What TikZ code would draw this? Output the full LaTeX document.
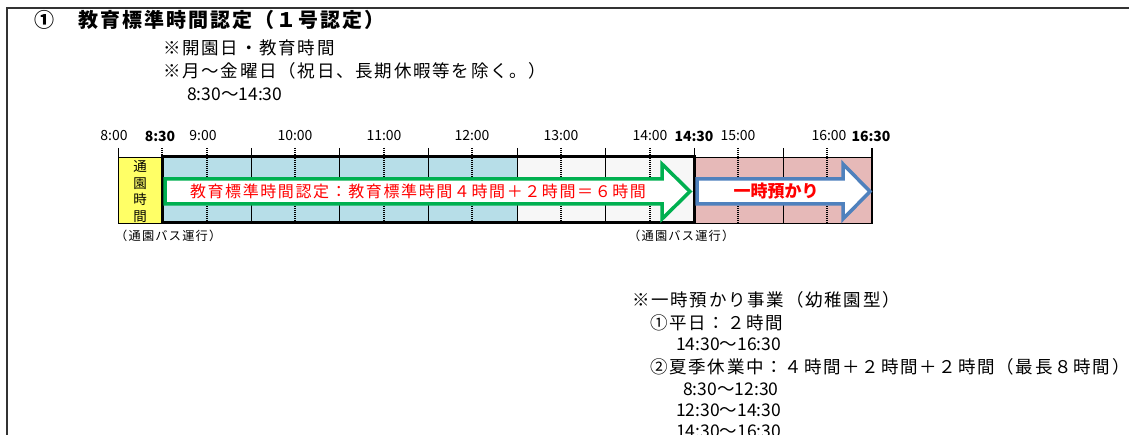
\documentclass[tikz,border=0pt]{standalone}
\usepackage{fontspec}
\setmainfont{Noto Sans CJK JP}
\newfontfamily\memofont[LetterSpace=10]{Noto Sans CJK JP}
\usepackage{tikz}
\definecolor{kyoikublue}{HTML}{B7DEE8}
\definecolor{azukaripink}{HTML}{E6B9B8}
\definecolor{tsuenyellow}{HTML}{FFFF66}
\definecolor{paleband}{HTML}{F7F7F7}
\definecolor{arrowgreen}{HTML}{00B050}
\definecolor{arrowblue}{HTML}{4F81BD}
\tikzset{
    timelbl/.style={inner sep=0pt, font=\fontsize{14}{14}\selectfont} }
\tikzset{
    timebold/.style={inner sep=0pt, font=\fontsize{14}{14}\selectfont\bfseries} }
\tikzset{
    memo/.style={anchor=west, inner sep=0pt, font=\memofont\fontsize{17.5}{18}\selectfont},
    memotime/.style={anchor=west, inner sep=0pt, font=\fontsize{17.5}{18}\selectfont} }
\tikzset{
    hourtick/.style={line width=1.6pt, dash pattern=on 1pt off 1pt},
    halftick/.style={line width=0.8pt} }

\begin{document}
\begin{tikzpicture}[x=1pt,y=-1pt]
  \useasboundingbox (0,0) rectangle (1129,435);
  \draw [line width=1.6pt, black!80] (7,445) -- (7,8) -- (1140,8);

  % heading and notes
  \node (title) [anchor=west, inner sep=0pt, font=\memofont\fontsize{20}{20}\selectfont\bfseries] at (34,20) {①\hspace{24pt}教育標準時間認定（１号認定）};
  \node (note1) [memo] at (163,48) {※開園日・教育時間};
  \node (note2) [memo] at (163,71) {※月～金曜日（祝日、長期休暇等を除く。）};
  \node (note3) [memotime] at (187,94) {8:30～14:30};

  % bands
  \fill [tsuenyellow] (118,157) rectangle (162,223);  \fill [kyoikublue] (162,157) rectangle (517,223);
  \fill [paleband] (517,157) rectangle (694,223);  \fill [azukaripink] (694,157) rectangle (872,223);

  % ticks: dashed on the hour, solid on the half hour
  \draw [hourtick] (207,148) -- (207,223); \draw [hourtick] (295,148) -- (295,223); \draw [hourtick] (384,148) -- (384,223);
  \draw [hourtick] (472,148) -- (472,223); \draw [hourtick] (561,148) -- (561,223); \draw [hourtick] (650,148) -- (650,223);
  \draw [hourtick] (738,148) -- (738,223); \draw [hourtick] (827,148) -- (827,223); \draw [hourtick] (162,148) -- (162,157);
  \draw [halftick] (118,148) -- (118,223); \draw [halftick] (251,148) -- (251,223); \draw [halftick] (339,148) -- (339,223);
  \draw [halftick] (428,148) -- (428,223); \draw [halftick] (517,148) -- (517,223); \draw [halftick] (605,148) -- (605,223);
  \draw [halftick] (694,148) -- (694,157); \draw [halftick] (783,148) -- (783,223);
  \draw [line width=2pt] (872,148) -- (872,223);
  \draw [line width=0.8pt] (118,157) rectangle (872,223);
  \draw [line width=3pt] (162,157) rectangle (694,223);

  % arrows
  \filldraw [fill=white, draw=arrowgreen, line width=3.5pt, miter limit=20]
    (165,179) -- (662,179) -- (662,164) -- (690,191.5) -- (662,219) -- (662,204) -- (165,204) -- cycle;
  \filldraw [fill=white, draw=arrowblue, line width=3.5pt, miter limit=20]
    (697,179) -- (843,179) -- (843,164) -- (870,191.5) -- (843,219) -- (843,204) -- (697,204) -- cycle;
  \node (kyoiku) [inner sep=0pt, text=red, font=\memofont\fontsize{16}{17}\selectfont] at (418,191.5) {教育標準時間認定：教育標準時間４時間＋２時間＝６時間};
  \node (azukari) [inner sep=0pt, text=red, font=\fontsize{17}{17}\selectfont\bfseries] at (776,191.5) {一時預かり};
  \node (tsuen) [inner sep=0pt, align=center, font=\fontsize{13.5}{16.8}\selectfont] at (140,191.5) {通\\園\\時\\間};

  % time labels
  \node (t800) [timelbl] at (114,136) {8:00};  \node (t830) [timebold] at (160,136) {8:30};
  \node (t900) [timelbl] at (203,136) {9:00};  \node (t1000) [timelbl] at (295,136) {10:00};
  \node (t1100) [timelbl] at (384,136) {11:00};  \node (t1200) [timelbl] at (472,136) {12:00};
  \node (t1300) [timelbl] at (561,136) {13:00};  \node (t1400) [timelbl] at (650,136) {14:00};
  \node (t1430) [timebold] at (694,136) {14:30};  \node (t1500) [timelbl] at (738,136) {15:00};
  \node (t1600) [timelbl] at (829,136) {16:00};  \node (t1630) [timebold] at (871,136) {16:30};

  \node (bus1) [anchor=west, inner sep=0pt, font=\memofont\fontsize{12.2}{12.5}\selectfont] at (115,236) {（通園バス運行）};
  \node (bus2) [anchor=west, inner sep=0pt, font=\memofont\fontsize{12.2}{12.5}\selectfont] at (628,236) {（通園バス運行）};

  % temporary care notes
  \node (ichiji) [memo] at (632,300) {※一時預かり事業（幼稚園型）};
  \node (heijitsu) [memo] at (650,323) {①平日：２時間};
  \node (h1) [memotime] at (676,344) {14:30～16:30};
  \node (kaki) [memo] at (650,367) {②夏季休業中：４時間＋２時間＋２時間（最長８時間）};
  \node (k1) [memotime] at (683,389) {8:30～12:30};
  \node (k2) [memotime] at (676,410) {12:30～14:30};
  \node (k3) [memotime] at (676,431) {14:30～16:30};
\end{tikzpicture}
\end{document}
